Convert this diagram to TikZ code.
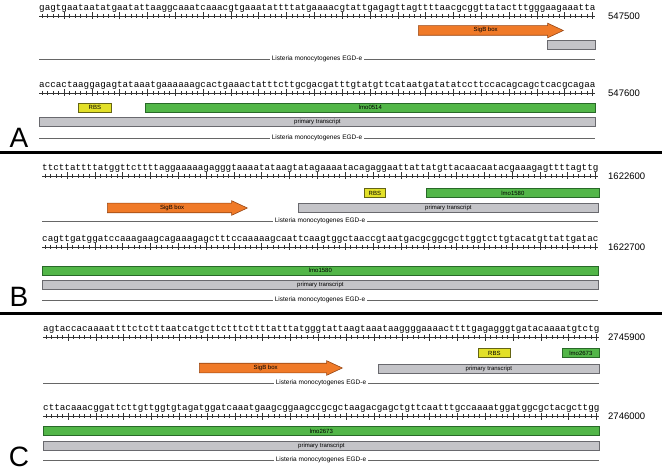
\documentclass[tikz,border=0pt]{standalone}
\usepackage{fontspec}
\setmainfont{Liberation Sans}
\newfontfamily\seqfont{Liberation Mono}
\usepackage{xcolor}
\usepackage{tikz}
\usetikzlibrary{shapes.arrows, calc}
\definecolor{sigbfill}{RGB}{240,122,40}
\definecolor{sigbdraw}{RGB}{150,70,20}
\definecolor{rbsfill}{RGB}{226,224,40}
\definecolor{rbsdraw}{RGB}{100,100,20}
\definecolor{genefill}{RGB}{82,182,72}
\definecolor{genedraw}{RGB}{40,105,40}
\definecolor{ptfill}{RGB}{196,196,200}
\definecolor{ptdraw}{RGB}{105,105,110}
\tikzstyle{seqtext} = [font=\seqfont\fontsize{9.27}{10}\selectfont, inner sep=0pt, anchor=base west]
\tikzstyle{ruler} = [line width=0.5pt, black!80]
\tikzstyle{posnum} = [font=\fontsize{9.5}{10}\selectfont, anchor=west, inner sep=0pt]
\tikzstyle{feature} = [rectangle, anchor=west, minimum height=9pt, inner sep=0pt, font=\fontsize{6}{6}\selectfont, line width=0.8pt]
\tikzstyle{rbs} = [feature, draw=rbsdraw, fill=rbsfill]
\tikzstyle{gene} = [feature, draw=genedraw, fill=genefill]
\tikzstyle{transcript} = [feature, draw=ptdraw, fill=ptfill]
\tikzstyle{sigb} = [single arrow, single arrow tip angle=50, single arrow head extend=2.5pt, anchor=tail, draw=sigbdraw, fill=sigbfill, text height=4.5pt, text depth=1.5pt, inner ysep=1.5pt, inner xsep=0pt, font=\fontsize{6}{6}\selectfont, line width=0.6pt]
\tikzstyle{genome} = [fill=white, inner xsep=2pt, inner ysep=0pt, font=\fontsize{6.5}{7}\selectfont]
\tikzstyle{gline} = [black!60, line width=0.7pt]
\tikzstyle{panel} = [font=\fontsize{28}{28}\selectfont, inner sep=0pt]
\tikzstyle{separator} = [line width=3pt]

% one row of sequence: name, left x, ruler y, bases, position
\newcommand{\seqrow}[5]{%
  \node[seqtext] (#1) at (#2,#3-5.5) {#4};
  \coordinate (#1-l) at (#2,#3);
  \coordinate (#1-r) at (#2+556.2,#3);
  \draw[ruler] (#1-l) -- (#1-r);
  \foreach \i in {1,...,100} \draw[ruler] ($(#1-l)+({(\i-0.5)*5.562},-2)$) -- ++(0,4);
  \foreach \i in {5,10,...,100} \draw[ruler] ($(#1-l)+({(\i-0.5)*5.562},-3.5)$) -- ++(0,7);
  \node[posnum] (#1-num) at (608,#3) {#5};
}
% genome line with its label: name, left x, right x, y
\newcommand{\genomeline}[4]{%
  \coordinate (#1-l) at (#2,#4);
  \coordinate (#1-r) at (#3,#4);
  \node[genome] (#1) at ($(#1-l)!0.5!(#1-r)$) {Listeria monocytogenes EGD-e};
  \draw[gline] (#1-l) -- (#1.west);
  \draw[gline] (#1.east) -- (#1-r);
}

\begin{document}
\begin{tikzpicture}[x=1pt, y=-1pt]
\useasboundingbox (0,0) rectangle (662,476);

% Panel A
\seqrow{seqA1}{39}{16}{gagtgaataatatgaatattaaggcaaatcaaacgtgaaatattttatgaaaacgtattgagagttagttttaacgcggttatactttgggaagaaatta}{547500}
\node[sigb, minimum height=145pt] (sigA) at (418,30.5) {SigB box};
\node[transcript, minimum width=48pt] (ptA1) at (547,45) {};
\genomeline{gnA1}{39}{595}{59}

\seqrow{seqA2}{39}{93}{accactaaggagagtataaatgaaaaaagcactgaaactatttcttgcgacgatttgtatgttcataatgatatatccttccacagcagctcacgcagaa}{547600}
\node[rbs, minimum width=33pt] (rbsA) at (78,107.5) {RBS};
\node[gene, minimum width=450pt] (geneA) at (145,107.5) {lmo0514};
\node[transcript, minimum width=556pt] (ptA2) at (39,122) {primary transcript};
\genomeline{gnA2}{39}{595}{138}
\node[panel] (labA) at (19,138) {A};

\coordinate (sepAl) at (0,153);
\coordinate (sepAr) at (662,153);
\draw[separator] (sepAl) -- (sepAr);

% Panel B
\seqrow{seqB1}{42}{176}{ttcttattttatggttcttttaggaaaaagagggtaaaatataagtatagaaaatacagaggaattattatgttacaacaatacgaaagagttttagttg}{1622600}
\node[rbs, minimum width=21pt] (rbsB) at (364,193) {RBS};
\node[gene, minimum width=173pt] (geneB1) at (426,193) {lmo1580};
\node[sigb, minimum height=140pt] (sigB) at (107,208) {SigB box};
\node[transcript, minimum width=300pt] (ptB1) at (298,208) {primary transcript};
\genomeline{gnB1}{42}{598}{221}

\seqrow{seqB2}{42}{247}{cagttgatggatccaaagaagcagaaagagctttccaaaaagcaattcaagtggctaaccgtaatgacgcggcgcttggtcttgtacatgttattgatac}{1622700}
\node[gene, minimum width=556pt] (geneB2) at (42,270.5) {lmo1580};
\node[transcript, minimum width=556pt] (ptB2) at (42,285) {primary transcript};
\genomeline{gnB2}{42}{598}{300}
\node[panel] (labB) at (19,297) {B};

\coordinate (sepBl) at (0,313);
\coordinate (sepBr) at (662,313);
\draw[separator] (sepBl) -- (sepBr);

% Panel C
\seqrow{seqC1}{43}{337}{agtaccacaaaattttctctttaatcatgcttctttcttttatttatgggtattaagtaaataaggggaaaacttttgagagggtgatacaaaatgtctg}{2745900}
\node[rbs, minimum width=32pt] (rbsC) at (478,353) {RBS};
\node[gene, minimum width=37pt] (geneC1) at (562,353) {lmo2673};
\node[sigb, minimum height=143pt] (sigC) at (199,368) {SigB box};
\node[transcript, minimum width=221pt] (ptC1) at (378,368.5) {primary transcript};
\genomeline{gnC1}{43}{599}{383}

\seqrow{seqC2}{43}{416}{cttacaaacggattcttgttggtgtagatggatcaaatgaagcggaagccgcgctaagacgagctgttcaatttgccaaaatggatggcgctacgcttgg}{2746000}
\node[gene, minimum width=556pt] (geneC2) at (43,431) {lmo2673};
\node[transcript, minimum width=556pt] (ptC2) at (43,445.5) {primary transcript};
\genomeline{gnC2}{43}{599}{460}
\node[panel] (labC) at (19,457) {C};

\end{tikzpicture}
\end{document}
